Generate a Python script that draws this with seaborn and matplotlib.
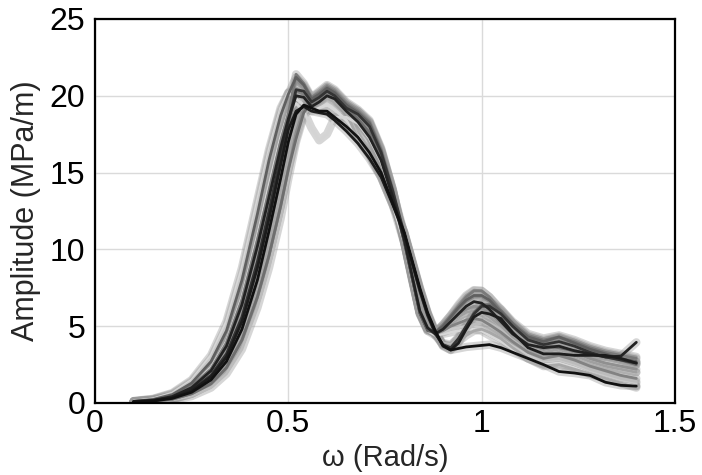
import numpy as np
import pandas as pd
import matplotlib
matplotlib.use("Agg")
import matplotlib.pyplot as plt
import seaborn as sns

omega = [0.10, 0.15, 0.20, 0.25, 0.30, 0.34, 0.38, 0.42, 0.45, 0.48, 0.50, 0.52, 0.54, 0.56,
         0.58, 0.60, 0.62, 0.65, 0.68, 0.71, 0.74, 0.77, 0.80, 0.82, 0.84, 0.86, 0.88, 0.90,
         0.92, 0.94, 0.96, 0.98, 1.00, 1.02, 1.05, 1.08, 1.12, 1.16, 1.20, 1.24, 1.28, 1.32,
         1.36, 1.40]

curve_a = [0.1,0.2,0.45,1.1,2.2,3.9,6.7,10.6,13.8,17.0,18.8, 21.4,20.8,19.9,20.2,20.6,20.3,19.5, 19.0,18.3,16.5,13.9, 10.5,8.2,5.9,4.8, 4.6,5.1,5.7,6.3,6.9,7.3,7.3,6.9,6.0,5.2,4.4,4.1,4.3,4.0,3.6,3.3,3.1,2.9]
curve_b = [0.08,0.15,0.35,0.8,1.7,3.0,5.3,8.8,12.0,15.5,17.8, 19.0,19.3,19.0,18.9,18.8,18.4,17.7, 16.9,15.9,14.7,12.9, 11.0,9.2,7.4,5.8, 4.6,3.7,3.45,3.9,4.8,5.6,5.9,5.8,5.5,4.6,3.6,3.2,3.2,3.1,3.1,3.1,2.9,2.6]
curve_c = [0.07,0.13,0.3,0.7,1.5,2.7,4.8,8.0,11.2,14.6,17.0, 18.8,19.4,19.2,19.0,19.0,18.6,18.0, 17.3,16.3,15.0,13.0, 11.1,9.3,7.5,5.9, 4.7,3.75,3.45,3.55,3.65,3.7,3.75,3.8,3.6,3.3,2.9,2.5,2.05,1.95,1.8,1.35,1.15,1.1]
curve_d = [0.1,0.18,0.42,1.0,2.1,3.7,6.4,10.2,13.4,16.6,18.5, 20.0,19.9,19.3,19.6,20.0,19.8,19.0, 18.3,17.3,15.8,13.4, 10.6,8.3,6.0,4.9, 4.5,4.8,5.3,5.8,6.3,6.6,6.5,6.1,5.3,4.5,3.8,3.6,3.7,3.4,3.2,3.0,3.05,3.95]
curve_e = [0.1,0.2,0.45,1.1,2.3,4.0,6.9,10.9,14.2,17.3,18.9, 19.5,19.0,17.9,17.1,17.5,18.6,18.6, 18.2,17.2,15.7,13.4, 10.5,8.1,5.9,4.8, 4.6,4.9,5.3,5.6,5.9,6.0,5.9,5.6,5.0,4.3,3.6,3.3,3.5,3.1,2.7,2.4,2.2,2.0]
curve_f = [0.06,0.12,0.25,0.6,1.25,2.3,4.1,6.9,9.6,12.8,15.2, 17.6,19.2,19.8,20.2,20.6,20.3,19.5, 19.0,18.3,16.5,13.9, 10.6,8.2,5.9,4.8, 4.6,5.0,5.5,6.1,6.6,6.9,6.9,6.6,5.8,5.0,4.2,3.9,4.2,3.8,3.4,3.1,2.8,2.5]
curve_g = [0.08,0.16,0.36,0.85,1.8,3.2,5.6,9.2,12.5,16.0,18.3, 20.4,20.3,19.6,19.9,20.3,20.0,19.2, 18.8,18.0,16.3,13.8, 11.0,9.1,7.3,5.7, 4.5,3.8,3.6,4.2,5.0,5.8,6.3,6.3,5.8,5.0,4.1,3.8,4.0,3.7,3.3,3.0,2.8,2.6]
curve_h = [0.12,0.25,0.6,1.4,2.9,5.0,8.4,12.8,16.2,19.0,20.2, 20.6,20.2,19.5,19.7,20.0,19.7,19.0, 18.4,17.4,15.9,13.4, 10.4,8.1,5.8,4.8, 4.5,4.6,4.8,4.9,5.0,5.0,4.9,4.6,4.2,3.7,3.1,2.7,2.8,2.5,2.1,1.8,1.5,1.3]
curve_i = [0.06,0.12,0.26,0.62,1.3,2.4,4.3,7.2,9.9,13.2,15.6, 17.9,19.0,19.4,19.6,19.9,19.6,18.9, 17.2,16.1,14.7,12.9, 11.0,9.2,7.4,5.8, 4.4,3.8,3.7,4.0,4.4,4.7,4.8,4.6,4.2,3.6,2.9,2.4,2.5,2.2,1.9,1.6,1.3,1.0]
curve_j = [0.11,0.23,0.55,1.3,2.7,4.7,8.0,12.3,15.8,18.7,20.1, 21.2,20.7,19.8,20.1,20.5,20.2,19.4, 18.9,18.2,16.4,13.8, 10.4,8.1,5.8,4.7, 4.6,5.0,5.6,6.2,6.7,7.0,7.0,6.7,5.9,5.1,4.3,4.0,4.3,3.9,3.5,3.2,2.9,2.7]
curve_k = [0.08,0.15,0.35,0.8,1.7,3.0,5.3,8.8,12.0,15.5,17.8, 20.2,20.0,19.4,19.7,20.1,19.8,19.0, 18.3,17.3,15.8,13.4, 11.0,9.2,7.4,5.8, 4.5,3.85,3.7,4.3,5.1,5.9,6.5,6.6,6.1,5.2,4.3,3.9,4.1,3.8,3.4,3.1,2.9,2.7]
curve_l = [0.1,0.2,0.45,1.1,2.2,3.9,6.7,10.6,13.8,17.0,18.8, 21.0,20.6,19.9,20.3,20.7,20.4,19.6, 19.1,18.4,16.6,13.9, 10.6,8.3,6.0,4.8, 4.6,5.0,5.4,5.8,6.1,6.3,6.2,5.9,5.2,4.5,3.8,3.5,3.7,3.3,2.9,2.6,2.4,2.2]
curve_m = [0.06,0.12,0.25,0.6,1.25,2.3,4.1,6.9,9.6,12.8,15.2, 17.2,18.9,19.6,20.0,20.4,20.1,19.3, 18.5,17.6,16.0,13.5, 11.0,9.2,7.3,5.8, 4.6,3.75,3.5,4.0,5.0,5.9,6.4,6.4,6.0,5.2,4.2,3.7,3.6,3.4,3.2,3.0,2.8,2.5]
curve_n = [0.13,0.27,0.65,1.5,3.1,5.3,8.8,13.2,16.5,19.2,20.2, 19.8,19.4,19.0,19.2,19.4,19.1,18.4, 17.4,16.2,14.7,12.9, 10.4,8.0,5.8,4.7, 4.4,4.5,4.6,4.7,4.8,4.8,4.7,4.4,4.0,3.5,2.9,2.5,2.6,2.3,1.9,1.6,1.3,1.1]
curve_o = [0.09,0.17,0.4,0.9,1.9,3.3,5.8,9.5,12.8,16.3,18.5, 21.0,20.5,19.7,20.0,20.4,20.1,19.3, 18.6,17.7,16.1,13.6, 10.5,8.2,5.9,4.8, 4.6,5.1,5.7,6.4,7.0,7.35,7.3,6.9,6.1,5.3,4.5,4.2,4.4,4.1,3.7,3.4,3.2,3.0]
curve_p = [0.05,0.1,0.2,0.45,1.0,1.9,3.5,6.2,8.8,12.0,14.6, 17.0,18.7,19.4,19.8,20.2,19.9,19.1, 17.3,16.2,14.8,13.0, 11.1,9.3,7.5,5.9, 4.5,3.9,3.8,4.2,4.7,5.1,5.3,5.2,4.8,4.1,3.3,2.8,2.9,2.6,2.2,1.9,1.6,1.4]
curve_q = [0.1,0.19,0.43,1.05,2.1,3.8,6.5,10.4,13.6,16.8,18.6, 20.5,20.3,19.6,19.9,20.3,20.0,19.3, 19.0,18.2,16.4,13.8, 10.5,8.2,5.9,4.8, 4.6,4.9,5.3,5.6,5.9,6.0,5.9,5.6,5.0,4.3,3.6,3.3,3.5,3.1,2.7,2.4,2.2,2.0]
curve_r = [0.08,0.15,0.35,0.8,1.7,3.0,5.3,8.8,12.0,15.5,17.8, 20.3,20.1,19.5,19.8,20.2,19.9,19.1, 18.4,17.4,15.9,13.4, 10.5,8.2,5.9,4.8, 4.5,4.7,5.0,5.2,5.4,5.5,5.4,5.1,4.6,4.0,3.3,2.9,3.1,2.8,2.4,2.1,1.8,1.6]

curves = {
    "N": curve_n, "H": curve_h, "P": curve_p, "K": curve_k, "I": curve_i, "E": curve_e,
    "Q": curve_q, "O": curve_o, "F": curve_f, "L": curve_l, "R": curve_r, "A": curve_a,
    "M": curve_m, "J": curve_j, "G": curve_g, "D": curve_d, "B": curve_b, "C": curve_c,
}
colors = {
    "N": "#d8d8d8", "H": "#c8c8c8", "P": "#bcbcbc", "K": "#b0b0b0", "I": "#a8a8a8",
    "E": "#d4d4d4", "Q": "#a0a0a0", "O": "#989898", "F": "#8c8c8c", "L": "#909090",
    "R": "#828282", "A": "#7a7a7a", "M": "#6e6e6e", "J": "#606060", "G": "#333333",
    "D": "#222222", "B": "#1c1c1c", "C": "#111111",
}

rows = []
for name, vals in curves.items():
    for w, a in zip(omega, vals):
        rows.append((name, w, a))
df = pd.DataFrame(rows, columns=["curve", "omega", "amp"])

sns.set_style("white")
plt.rcParams["font.family"] = ["Liberation Sans", "DejaVu Sans"]

fig = plt.figure(figsize=(7.02, 4.75), dpi=100)
ax = fig.add_axes([95 / 702, 1 - 403 / 475, 580 / 702, 384 / 475])

# soft halo under the bundle
sns.lineplot(data=df, x="omega", y="amp", units="curve", estimator=None, sort=False,
             color="#9a9a9a", linewidth=6.0, alpha=0.4, ax=ax, legend=False)
sns.lineplot(data=df, x="omega", y="amp", hue="curve", palette=colors,
             hue_order=list(curves.keys()), estimator=None, sort=False,
             linewidth=2.0, ax=ax, legend=False)

ax.set_xlim(0, 1.5)
ax.set_ylim(0, 25)
ax.set_xticks([0, 0.5, 1, 1.5])
ax.set_xticklabels(["0", "0.5", "1", "1.5"])
ax.set_yticks([0, 5, 10, 15, 20, 25])
ax.grid(True, color="#dadada", linewidth=1.0)
ax.set_axisbelow(True)
ax.tick_params(axis="both", length=0, labelsize=23, colors="black")
ax.tick_params(axis="y", pad=7)
ax.tick_params(axis="x", pad=4)
for s in ax.spines.values():
    s.set_color("black")
    s.set_linewidth(1.6)
ax.set_xlabel("ω (Rad/s)", fontsize=21, labelpad=4)
ax.set_ylabel("Amplitude (MPa/m)", fontsize=22, labelpad=6)

fig.savefig("out.png", dpi=100)
